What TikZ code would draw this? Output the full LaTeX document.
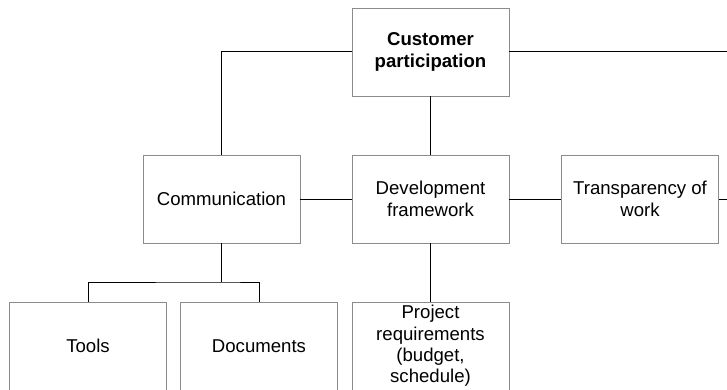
\documentclass[tikz,border=0pt]{standalone}
\usepackage{fontspec}
\setmainfont{Liberation Sans}
\usetikzlibrary{positioning}
\definecolor{boxGray}{HTML}{8C8C8C}

\begin{document}
\begin{tikzpicture}[
    x=1pt, y=-1pt,
    box/.style={draw=boxGray, line width=0.8pt, minimum width=157pt, minimum height=88pt,
      inner sep=0pt, align=center, font=\fontsize{18.6}{22}\selectfont},
    link/.style={draw=black, line width=1pt}
  ]
  \useasboundingbox (0,0) rectangle (727,390);
  \clip (0,0) rectangle (727,390);

  \node[box, font=\fontsize{18.6}{22}\selectfont\bfseries] (cust) at (430.5, 52) {Customer\\participation};
  \node[box] (comm)  at (221.5, 199) {Communication};
  \node[box] (dev)   at (430.5, 199) {Development\\framework};
  \node[box] (trans) at (640, 199)   {Transparency of\\work};
  \node[box] (tools) at (88, 346)    {Tools};
  \node[box] (docs)  at (259, 346)   {Documents};
  \node[box] (proj)  at (430.5, 346) {\raisebox{-3pt}{\shortstack{Project\\[1pt]requirements\\[1pt](budget,\\[1pt]schedule)}}};

  \coordinate (custR)  at (727, 52);
  \coordinate (transR) at (727, 199);
  \coordinate (split)  at (221.5, 282);

  \draw[link] (cust.west) -| (comm.north);
  \draw[link] (cust.east) -- (custR);
  \draw[link] (cust.south) -- (dev.north);
  \draw[link] (comm.east) -- (dev.west);
  \draw[link] (dev.east) -- (trans.west);
  \draw[link] (trans.east) -- (transR);
  \draw[link] (comm.south) -- (split);
  \draw[link] (tools.north) |- (split) -| (docs.north);
  \draw[link] (dev.south) -- (proj.north);
\end{tikzpicture}
\end{document}
